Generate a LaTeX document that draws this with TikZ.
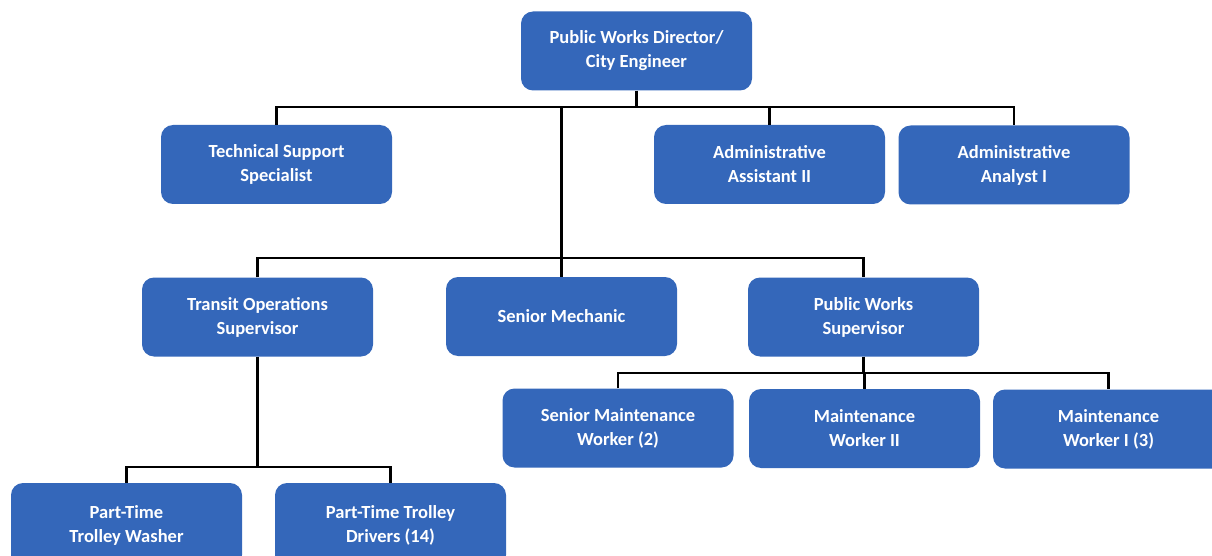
\documentclass[tikz,border=0pt]{standalone}
\usepackage{fontspec}
\setmainfont{Carlito}
\definecolor{boxblue}{RGB}{52,103,186}

\begin{document}
\begin{tikzpicture}[x=1pt,y=-1pt,
    post/.style={fill=boxblue,text=white,rounded corners=12pt,minimum width=231pt,minimum height=79pt,
      inner sep=0pt,align=center,font=\bfseries\fontsize{18.5}{24}\selectfont},
    link/.style={line width=2.8pt,line join=miter}]
  \clip (0,0) rectangle (1212,556);
  % boxes
  \node[post] (dir) at (636.5,51) {Public Works Director/\\City Engineer};
  \node[post] (tech) at (276.5,164.5) {Technical Support\\Specialist};
  \node[post] (assist) at (769.5,164.5) {Administrative\\Assistant II};
  \node[post] (analyst) at (1014,165) {Administrative\\Analyst I};
  \node[post] (transit) at (257.5,317) {Transit Operations\\Supervisor};
  \node[post] (mech) at (561.5,316.5) {Senior Mechanic};
  \node[post] (pwsup) at (863.5,317) {Public Works\\Supervisor};
  \node[post] (srmaint) at (618,428) {Senior Maintenance\\Worker (2)};
  \node[post] (maint2) at (864.5,428.5) {Maintenance\\Worker II};
  \node[post] (maint1) at (1108.5,429) {Maintenance\\Worker I (3)};
  \node[post,minimum height=84pt] (washer) at (126.5,525) {Part-Time\\Trolley Washer};
  \node[post,minimum height=84pt] (drivers) at (390.5,525) {Part-Time Trolley\\Drivers (14)};
  % bus lines
  \coordinate (bus1) at (0,107);
  \coordinate (bus2) at (0,258);
  \coordinate (bus3) at (0,373);
  \coordinate (bus4) at (0,467);
  % connectors
  \draw[link] (dir.south) -- (dir.south |- bus1);
  \draw[link] (tech.north) -- (tech.north |- bus1) -- (analyst.north |- bus1) -- (analyst.north);
  \draw[link] (assist.north) -- (assist.north |- bus1);
  \draw[link] (mech.north |- bus1) -- (mech.north);
  \draw[link] (transit.north) -- (transit.north |- bus2) -- (pwsup.north |- bus2) -- (pwsup.north);
  \draw[link] (pwsup.south) -- (pwsup.south |- bus3);
  \draw[link] (srmaint.north) -- (srmaint.north |- bus3) -- (maint1.north |- bus3) -- (maint1.north);
  \draw[link] (maint2.north) -- (maint2.north |- bus3);
  \draw[link] (transit.south) -- (transit.south |- bus4);
  \draw[link] (washer.north) -- (washer.north |- bus4) -- (drivers.north |- bus4) -- (drivers.north);
\end{tikzpicture}
\end{document}
